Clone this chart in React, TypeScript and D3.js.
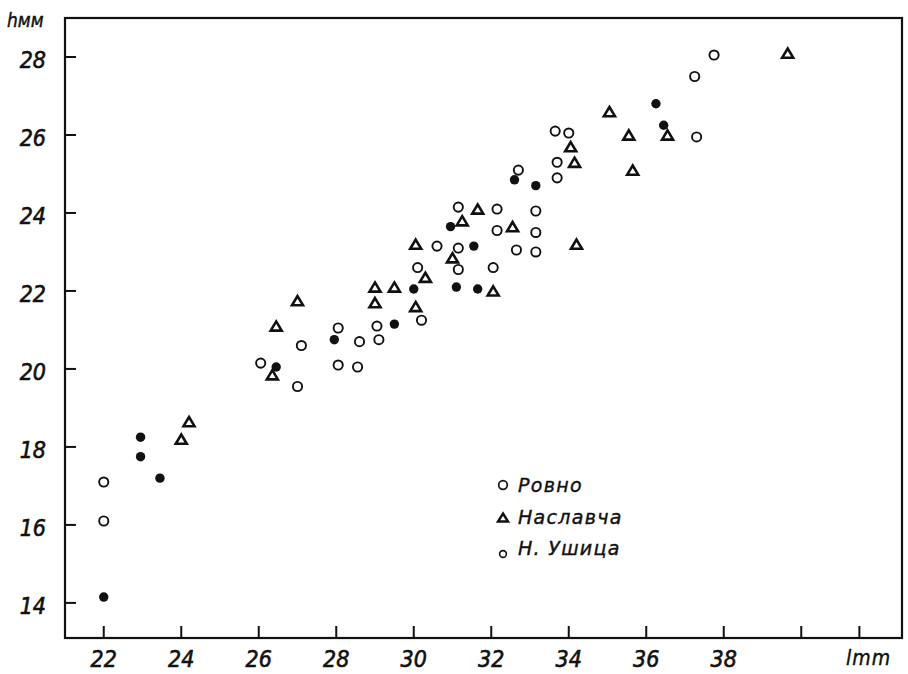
import React from "react";
import * as d3 from "d3";

// ---- data ----
const rovnoL = [22, 22, 30.1, 30.2, 29.05, 28.05, 28.6, 29.1, 27.1, 26.05, 28.05, 28.55, 27.0, 31.15, 32.15, 33.15, 32.15, 33.15, 30.6, 31.15, 32.65, 33.15, 31.15, 32.05, 33.65, 34.0, 33.7, 32.7, 33.7, 37.75, 37.25, 37.3];
const rovnoH = [17.1, 16.1, 22.6, 21.25, 21.1, 21.05, 20.7, 20.75, 20.6, 20.15, 20.1, 20.05, 19.55, 24.15, 24.1, 24.05, 23.55, 23.5, 23.15, 23.1, 23.05, 23.0, 22.55, 22.6, 26.1, 26.05, 25.3, 25.1, 24.9, 28.05, 27.5, 25.95];

const naslavchaL = [24.2, 24.0, 30.3, 29.0, 29.5, 27.0, 29.0, 30.05, 26.45, 26.35, 31.65, 31.25, 32.55, 30.05, 31.0, 34.2, 32.05, 35.05, 35.55, 34.05, 34.15, 35.65, 39.65, 36.55];
const naslavchaH = [18.65, 18.2, 22.35, 22.1, 22.1, 21.75, 21.7, 21.6, 21.1, 19.85, 24.1, 23.8, 23.65, 23.2, 22.85, 23.2, 22.0, 26.6, 26.0, 25.7, 25.3, 25.1, 28.1, 26.0];

const ushitsaL = [22, 22.95, 22.95, 23.45, 30.0, 29.5, 27.95, 26.45, 30.95, 31.55, 31.1, 31.65, 36.25, 36.45, 32.6, 33.15];
const ushitsaH = [14.15, 18.25, 17.75, 17.2, 22.05, 21.15, 20.75, 20.05, 23.65, 23.15, 22.1, 22.05, 26.8, 26.25, 24.85, 24.7];

const xTicks = [22, 24, 26, 28, 30, 32, 34, 36, 38];
const xExtraTicks = [40, 41.5];
const yTicks = [14, 16, 18, 20, 22, 24, 26, 28];

const legendNames = ["Ровно", "Наславча", "Н. Ушица"];

const W = 908;
const H = 674;

const x = d3.scaleLinear().domain([21, 42.6]).range([65, 902]);
const y = d3.scaleLinear().domain([13.1, 29]).range([638, 18]);

const tickFont = "'Liberation Sans Narrow', 'DejaVu Sans Condensed', sans-serif";
const textFont = "'DejaVu Sans', 'Liberation Sans', sans-serif";

const triPath = (cx: number, cy: number, hw: number, hh: number) =>
  `M${cx},${cy - hh}L${cx + hw},${cy + hh}L${cx - hw},${cy + hh}Z`;

export default function App() {
  const [x0, x1] = x.range();
  const [y0, y1] = y.range();
  return (
    <svg
      width={W}
      height={H}
      viewBox={`0 0 ${W} ${H}`}
      style={{ position: "absolute", left: 0, top: 0, background: "#fff" }}
    >
      <rect x={0} y={0} width={W} height={H} fill="#fff" />
      {/* frame */}
      <rect
        x={x0}
        y={y1}
        width={x1 - x0}
        height={y0 - y1}
        fill="none"
        stroke="#111"
        strokeWidth={2.2}
      />
      {/* y ticks */}
      {yTicks.map((t) => (
        <g key={"y" + t}>
          <line x1={x0} x2={x0 + 11} y1={y(t)} y2={y(t)} stroke="#111" strokeWidth={2} />
          <text
            x={46}
            y={y(t) + 11}
            textAnchor="end"
            fontFamily={tickFont}
            fontStyle="italic"
            fontSize={23}
            fill="#111"
            stroke="#111"
            strokeWidth={0.6}
          >
            {t}
          </text>
        </g>
      ))}
      {/* x ticks */}
      {[...xTicks, ...xExtraTicks].map((t) => (
        <line key={"x" + t} x1={x(t)} x2={x(t)} y1={y0} y2={y0 - 12} stroke="#111" strokeWidth={2} />
      ))}
      {xTicks.map((t) => (
        <text
          key={"xl" + t}
          x={x(t)}
          y={667}
          textAnchor="middle"
          fontFamily={tickFont}
          fontStyle="italic"
          fontSize={23}
          fill="#111"
          stroke="#111"
          strokeWidth={0.6}
        >
          {t}
        </text>
      ))}
      {/* axis titles */}
      <text x={7} y={27} fontFamily={tickFont} fontStyle="italic" fontSize={19} fill="#111" stroke="#111" strokeWidth={0.4}>
        hмм
      </text>
      <text x={846} y={665} fontFamily={tickFont} fontStyle="italic" fontSize={21} fill="#111" letterSpacing={1} stroke="#111" strokeWidth={0.4}>
        lmm
      </text>

      {/* Наславча triangles */}
      {naslavchaL.map((l, i) => (
        <path
          key={"t" + i}
          d={triPath(x(l), y(naslavchaH[i]), 5.5, 4.6)}
          fill="none"
          stroke="#111"
          strokeWidth={2.6}
          strokeLinejoin="miter"
        />
      ))}
      {/* Ровно open circles */}
      {rovnoL.map((l, i) => (
        <circle key={"c" + i} cx={x(l)} cy={y(rovnoH[i])} r={4.6} fill="none" stroke="#111" strokeWidth={1.9} />
      ))}
      {/* Н. Ушица filled dots */}
      {ushitsaL.map((l, i) => (
        <circle key={"f" + i} cx={x(l)} cy={y(ushitsaH[i])} r={4.7} fill="#111" />
      ))}

      {/* legend */}
      <circle cx={503} cy={485} r={4.3} fill="none" stroke="#111" strokeWidth={1.7} />
      <path d={triPath(503, 517.5, 5, 4)} fill="none" stroke="#111" strokeWidth={2.4} />
      <circle cx={503} cy={554} r={3.4} fill="none" stroke="#111" strokeWidth={1.6} />
      {legendNames.map((n, i) => (
        <text
          key={n}
          x={518}
          y={[491.5, 523.5, 555][i]}
          fontFamily={textFont}
          fontStyle="italic"
          fontSize={19}
          letterSpacing={1.3}
          fill="#111"
          stroke="#111"
          strokeWidth={0.4}
        >
          {n}
        </text>
      ))}
    </svg>
  );
}
